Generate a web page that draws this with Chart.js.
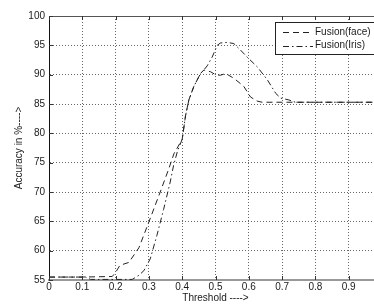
<!DOCTYPE html>
<html>
<head>
<meta charset="utf-8">
<script src="https://cdn.jsdelivr.net/npm/chart.js@4/dist/chart.umd.min.js"></script>
<style>
html,body{margin:0;padding:0;background:#fff;overflow:hidden;width:374px;height:304px;}
#wrap{position:absolute;left:0;top:0;width:420px;height:304px;}
</style>
</head>
<body>
<div id="wrap"><canvas id="c" width="420" height="304"></canvas></div>
<script>
// ---- data ----
const seriesLabels = ['Fusion(face)', 'Fusion(Iris)'];
const faceX = [0, 0.1, 0.19, 0.2, 0.213, 0.24, 0.27, 0.30, 0.334, 0.36, 0.375, 0.385, 0.40, 0.41, 0.42, 0.435, 0.455, 0.465, 0.485, 0.5, 0.515, 0.53, 0.555, 0.585, 0.605, 0.625, 0.64, 1.0];
const faceY = [55.5, 55.5, 55.6, 56.3, 57.5, 58.0, 60.5, 64.9, 70.0, 74.0, 76.5, 77.5, 79.0, 83.0, 85.7, 88.0, 90.2, 90.8, 90.5, 90.0, 89.9, 90.2, 89.4, 88.0, 86.2, 85.5, 85.3, 85.3];
const irisX = [0, 0.11, 0.125, 0.25, 0.27, 0.285, 0.304, 0.324, 0.344, 0.364, 0.374, 0.386, 0.40, 0.41, 0.42, 0.435, 0.455, 0.465, 0.475, 0.49, 0.505, 0.515, 0.535, 0.555, 0.575, 0.595, 0.626, 0.656, 0.681, 0.696, 0.72, 0.74, 1.0];
const irisY = [55.5, 55.5, 55.1, 55.1, 55.8, 56.6, 58.6, 62.6, 67.0, 71.7, 74.5, 77.0, 79.0, 83.0, 85.7, 88.0, 90.2, 90.8, 91.5, 93.0, 95.0, 95.4, 95.5, 95.3, 94.2, 93.0, 91.3, 89.1, 86.8, 86.0, 85.7, 85.3, 85.3];
const xTickLabels = ['0', '0.1', '0.2', '0.3', '0.4', '0.5', '0.6', '0.7', '0.8', '0.9', '1'];
const yTickLabels = ['55', '60', '65', '70', '75', '80', '85', '90', '95', '100'];
const xTitle = 'Threshold ---->';
const yTitle = 'Accuracy in %---->';

const FONT = 'Liberation Sans, Arial, sans-serif';
const TXT = '#1a1a1a';
const dashes = [[6, 4], [6, 3, 1.5, 3]];

const pts = (xs, ys) => xs.map((x, i) => ({x: x, y: ys[i]}));

const framePlugin = {
  id: 'frame',
  afterDatasetsDraw(chart) {
    const ctx = chart.ctx, a = chart.chartArea;
    const xs = chart.scales.x, ys = chart.scales.y;
    ctx.save();
    // top frame line
    ctx.strokeStyle = '#555'; ctx.lineWidth = 1;
    ctx.beginPath(); ctx.moveTo(a.left, a.top + 0.5); ctx.lineTo(a.right, a.top + 0.5); ctx.stroke();
    ctx.beginPath(); ctx.moveTo(a.right - 0.5, a.top); ctx.lineTo(a.right - 0.5, a.bottom); ctx.stroke();
    // inward ticks
    ctx.strokeStyle = '#333';
    xs.ticks.forEach(t => {
      const px = Math.round(xs.getPixelForValue(t.value)) + 0.5;
      ctx.beginPath(); ctx.moveTo(px, a.bottom); ctx.lineTo(px, a.bottom - 4); ctx.stroke();
      ctx.beginPath(); ctx.moveTo(px, a.top); ctx.lineTo(px, a.top + 4); ctx.stroke();
    });
    ys.ticks.forEach(t => {
      const py = Math.round(ys.getPixelForValue(t.value)) + 0.5;
      ctx.beginPath(); ctx.moveTo(a.left, py); ctx.lineTo(a.left + 4, py); ctx.stroke();
    });
    // legend box
    const bx = a.left + 226, by = a.top + 6, bw = 110, bh = 32;
    ctx.fillStyle = '#fff';
    ctx.fillRect(bx, by, bw, bh);
    ctx.strokeStyle = '#222'; ctx.lineWidth = 1;
    ctx.strokeRect(bx + 0.5, by + 0.5, bw, bh);
    ctx.font = '10px ' + FONT;
    ctx.textBaseline = 'middle';
    chart.data.datasets.forEach((ds, i) => {
      const ly = by + 10 + i * 13.5;
      ctx.strokeStyle = '#222';
      ctx.setLineDash(dashes[i]);
      ctx.beginPath(); ctx.moveTo(bx + 8, Math.round(ly) + 0.5); ctx.lineTo(bx + 38, Math.round(ly) + 0.5); ctx.stroke();
      ctx.setLineDash([]);
      ctx.fillStyle = TXT;
      ctx.fillText(ds.label, bx + 40, ly);
    });
    ctx.restore();
  }
};

new Chart(document.getElementById('c'), {
  type: 'line',
  data: {
    datasets: [
      {label: seriesLabels[0], data: pts(faceX, faceY), borderColor: '#222', borderWidth: 1, borderDash: dashes[0], pointRadius: 0, tension: 0, fill: false},
      {label: seriesLabels[1], data: pts(irisX, irisY), borderColor: '#222', borderWidth: 1, borderDash: dashes[1], pointRadius: 0, tension: 0, fill: false}
    ]
  },
  options: {
    responsive: false,
    animation: false,
    events: [],
    layout: {padding: {left: 0, top: 16, right: 38, bottom: 0}},
    plugins: {legend: {display: false}, tooltip: {enabled: false}},
    scales: {
      x: {
        type: 'linear', min: 0, max: 1,
        afterFit(s) { s.height = 24; },
        ticks: {stepSize: 0.1, autoSkip: false, maxRotation: 0, padding: 1, color: TXT, font: {family: FONT, size: 10},
          callback: (v, i) => xTickLabels[i]},
        grid: {drawTicks: false, color: '#666', lineWidth: 1},
        border: {display: true, color: '#999', width: 2, dash: [1, 2]},
        title: {display: true, text: xTitle, color: TXT, font: {family: FONT, size: 10}, padding: {top: 0, bottom: 0}}
      },
      y: {
        type: 'linear', min: 55, max: 100,
        afterFit(s) { s.width = 49; },
        ticks: {stepSize: 5, autoSkip: false, padding: 4, color: TXT, font: {family: FONT, size: 10},
          callback: (v, i) => yTickLabels[i]},
        grid: {drawTicks: false, color: '#666', lineWidth: 1},
        border: {display: true, color: '#111', width: 1, dash: [1, 2]},
        title: {display: true, text: yTitle, color: TXT, font: {family: FONT, size: 10}, padding: {top: 13, bottom: 0}}
      }
    }
  },
  plugins: [framePlugin]
});
</script>
</body>
</html>
